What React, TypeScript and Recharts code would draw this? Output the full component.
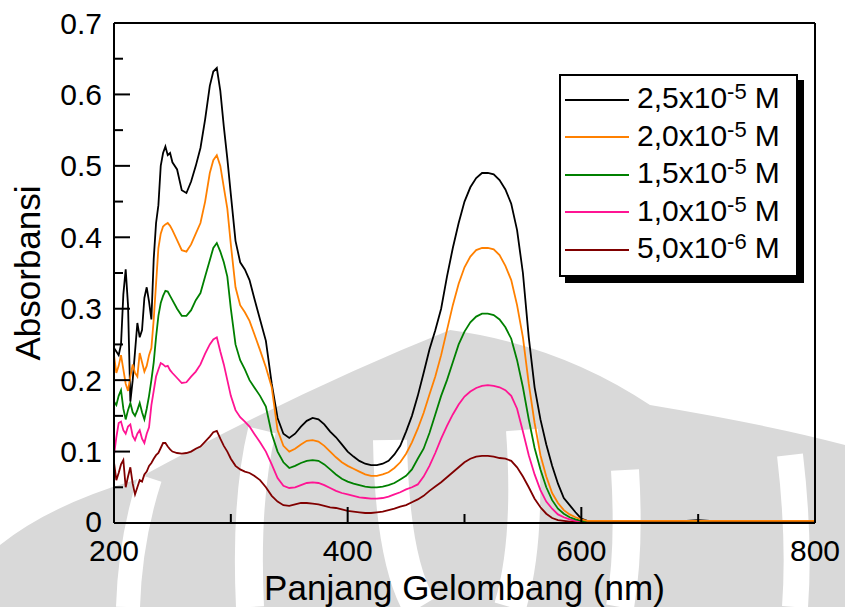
import React from "react";
import { Legend, Line, LineChart, XAxis, YAxis } from "recharts";

// wavelength grid (nm)
const WL = [
  200, 202, 204, 206, 208, 210, 212, 214, 216, 218,
  220, 222, 224, 226, 228, 230, 232, 234, 236, 238,
  240, 242, 244, 246, 248, 250, 254, 258, 262, 266,
  270, 274, 278, 282, 285, 288, 291, 294, 297, 300,
  304, 308, 312, 316, 320, 325, 330, 335, 340, 345,
  350, 355, 360, 365, 370, 375, 380, 385, 390, 395,
  400, 405, 410, 415, 420, 425, 430, 435, 440, 445,
  450, 455, 460, 465, 470, 475, 480, 485, 490, 495,
  500, 505, 510, 515, 520, 525, 530, 535, 540, 545,
  550, 555, 560, 565, 570, 575, 580, 585, 590, 595,
  600, 605, 610, 620, 640, 660, 680, 700, 720, 740,
  760, 780, 800,
];

// 2,5x10^-5 M
const A25 = [
  0.245, 0.24, 0.235, 0.25, 0.32, 0.355, 0.305, 0.17, 0.2, 0.24,
  0.28, 0.26, 0.27, 0.315, 0.33, 0.31, 0.285, 0.37, 0.42, 0.445,
  0.5, 0.518, 0.527, 0.515, 0.518, 0.505, 0.495, 0.466, 0.462, 0.478,
  0.5, 0.525, 0.565, 0.612, 0.632, 0.637, 0.605, 0.555, 0.51, 0.46,
  0.395, 0.365, 0.355, 0.34, 0.315, 0.285, 0.255, 0.195, 0.147, 0.125,
  0.119, 0.125, 0.135, 0.143, 0.147, 0.145, 0.138, 0.128, 0.12, 0.11,
  0.1, 0.093, 0.087, 0.083, 0.081, 0.081, 0.083, 0.087, 0.096, 0.108,
  0.128, 0.15, 0.178, 0.21, 0.243, 0.27, 0.3, 0.345, 0.385, 0.42,
  0.45, 0.47, 0.483, 0.49, 0.49, 0.488, 0.48, 0.467, 0.447, 0.41,
  0.35, 0.26, 0.19, 0.145, 0.11, 0.08, 0.055, 0.035, 0.025, 0.015,
  0.006, 0.003, 0.002, 0.002, 0.002, 0.002, 0.002, 0.004, 0.002, 0.003,
  0.002, 0.002, 0.002,
];

// 2,0x10^-5 M
const A20 = [
  0.235, 0.21, 0.22, 0.235, 0.215, 0.195, 0.185, 0.205, 0.222, 0.21,
  0.205, 0.238, 0.225, 0.212, 0.22, 0.235, 0.245, 0.285, 0.335, 0.385,
  0.405, 0.415, 0.418, 0.42, 0.416, 0.41, 0.396, 0.382, 0.38, 0.39,
  0.405, 0.42, 0.45, 0.49, 0.508, 0.515, 0.5, 0.47, 0.44, 0.39,
  0.33, 0.305, 0.295, 0.283, 0.265, 0.242, 0.218, 0.19, 0.13, 0.108,
  0.1, 0.104, 0.11, 0.115, 0.116, 0.114, 0.108, 0.1, 0.092, 0.085,
  0.08, 0.076, 0.072, 0.068, 0.066, 0.066, 0.068, 0.071, 0.077, 0.085,
  0.097, 0.113, 0.132, 0.154, 0.18, 0.205, 0.235, 0.27, 0.305, 0.335,
  0.358, 0.373, 0.382, 0.385, 0.385, 0.383, 0.375, 0.36, 0.34, 0.305,
  0.26, 0.195, 0.14, 0.095, 0.065, 0.042, 0.028, 0.018, 0.012, 0.008,
  0.005, 0.003, 0.003, 0.003, 0.003, 0.003, 0.003, 0.003, 0.003, 0.003,
  0.003, 0.003, 0.003,
];

// 1,5x10^-5 M
const A15 = [
  0.17, 0.165, 0.178, 0.186, 0.16, 0.145, 0.158, 0.168, 0.155, 0.15,
  0.158, 0.168, 0.155, 0.145, 0.16, 0.178, 0.2, 0.225, 0.26, 0.29,
  0.308, 0.318, 0.325, 0.324, 0.318, 0.312, 0.3, 0.29, 0.29, 0.298,
  0.312, 0.322, 0.345, 0.368, 0.385, 0.392, 0.38, 0.365, 0.345, 0.3,
  0.25, 0.228, 0.215, 0.2, 0.19, 0.178, 0.163, 0.125, 0.1, 0.085,
  0.077, 0.08, 0.084, 0.087, 0.088, 0.087, 0.082, 0.075, 0.068, 0.062,
  0.058, 0.055, 0.053, 0.051, 0.05, 0.05, 0.051, 0.053, 0.056, 0.061,
  0.066, 0.075, 0.09, 0.104, 0.126, 0.152, 0.178, 0.2, 0.225, 0.25,
  0.268, 0.281, 0.289, 0.293, 0.293, 0.291, 0.285, 0.274, 0.258, 0.228,
  0.19, 0.145, 0.105, 0.075, 0.05, 0.032, 0.02, 0.013, 0.008, 0.005,
  0.003, 0.002, 0.002, 0.002, 0.002, 0.002, 0.002, 0.002, 0.002, 0.002,
  0.002, 0.002, 0.002,
];

// 1,0x10^-5 M
const A10 = [
  0.095, 0.12, 0.14, 0.142, 0.13, 0.125, 0.135, 0.138, 0.122, 0.116,
  0.125, 0.13, 0.118, 0.112, 0.125, 0.134, 0.165, 0.185, 0.205, 0.215,
  0.224, 0.222, 0.219, 0.22, 0.214, 0.21, 0.203, 0.196, 0.197, 0.205,
  0.212, 0.222, 0.237, 0.25, 0.257, 0.26, 0.24, 0.222, 0.2, 0.178,
  0.158, 0.148, 0.142, 0.135, 0.125, 0.113, 0.1, 0.082, 0.063, 0.052,
  0.049, 0.05, 0.053, 0.056, 0.057, 0.056, 0.053, 0.049, 0.045, 0.042,
  0.04, 0.038, 0.036, 0.035, 0.034, 0.034, 0.035, 0.037, 0.04, 0.043,
  0.047, 0.05, 0.054, 0.065, 0.08, 0.098, 0.118, 0.136, 0.152, 0.166,
  0.177, 0.184, 0.189, 0.192, 0.193, 0.192, 0.19, 0.186, 0.178, 0.16,
  0.128, 0.095, 0.068, 0.046, 0.03, 0.02, 0.012, 0.008, 0.005, 0.003,
  0.002, 0.002, 0.002, 0.002, 0.002, 0.002, 0.002, 0.002, 0.002, 0.002,
  0.002, 0.002, 0.002,
];

// 5,0x10^-6 M
const A05 = [
  0.085, 0.06, 0.07, 0.082, 0.088, 0.05, 0.065, 0.078, 0.055, 0.04,
  0.05, 0.06, 0.058, 0.068, 0.072, 0.08, 0.084, 0.09, 0.095, 0.098,
  0.105, 0.112, 0.112, 0.107, 0.103, 0.1, 0.098, 0.097, 0.098, 0.1,
  0.104, 0.107, 0.114, 0.121, 0.127, 0.129, 0.118, 0.108, 0.1, 0.09,
  0.08, 0.075, 0.072, 0.07, 0.066, 0.06, 0.05, 0.038, 0.03, 0.025,
  0.024, 0.026, 0.028, 0.028, 0.027, 0.026, 0.024, 0.022, 0.021, 0.019,
  0.017, 0.016, 0.015, 0.014, 0.014, 0.015, 0.016, 0.018, 0.02, 0.023,
  0.025, 0.029, 0.033, 0.038, 0.045, 0.051, 0.057, 0.064, 0.071, 0.078,
  0.085, 0.09, 0.093, 0.094, 0.094, 0.093, 0.091, 0.09, 0.087, 0.078,
  0.065, 0.05, 0.034, 0.022, 0.013, 0.007, 0.004, 0.003, 0.002, 0.002,
  0.002, 0.002, 0.002, 0.002, 0.002, 0.002, 0.002, 0.002, 0.002, 0.002,
  0.002, 0.002, 0.002,
];

const X_TICKS = [200, 300, 400, 500, 600, 700, 800];
const Y_TICKS = [0, 0.05, 0.1, 0.15, 0.2, 0.25, 0.3, 0.35, 0.4, 0.45, 0.5, 0.55, 0.6, 0.65, 0.7];

const SERIES = [
  { key: "a25", label: "2,5", exp: "-5", color: "#000000", values: A25 },
  { key: "a20", label: "2,0", exp: "-5", color: "#FF8000", values: A20 },
  { key: "a15", label: "1,5", exp: "-5", color: "#008000", values: A15 },
  { key: "a10", label: "1,0", exp: "-5", color: "#FF1493", values: A10 },
  { key: "a05", label: "5,0", exp: "-6", color: "#800000", values: A05 },
];

// draw order: orange ends up on top like the original
const DRAW_ORDER = ["a05", "a10", "a15", "a25", "a20"];

const data = WL.map((wl, i) => {
  const row: Record<string, number> = { wl };
  SERIES.forEach((s) => (row[s.key] = s.values[i]));
  return row;
});

const FONT = "'Liberation Sans', Arial, sans-serif";
const MAJOR = 16;
const MINOR = 9;

const isMajorY = (v: number) => Math.round(v * 100) % 10 === 0;
const isMajorX = (v: number) => v % 200 === 0;
const fmtY = (v: number) => (v === 0 ? "0" : v.toFixed(1));

const LeftTick = ({ x, y, payload }: any) => {
  const major = isMajorY(payload.value);
  return (
    <g>
      <line x1={x} x2={x + (major ? MAJOR : MINOR)} y1={y} y2={y} stroke="#000" strokeWidth={2} />
      {major && (
        <text
          x={x - 12}
          y={y}
          dy={payload.value === 0 ? 9 : 10.5}
          textAnchor="end"
          fontSize={30}
          fontFamily={FONT}
          fill="#000"
        >
          {fmtY(payload.value)}
        </text>
      )}
    </g>
  );
};

const RightTick = ({ x, y, payload }: any) => {
  const major = isMajorY(payload.value);
  return <line x1={x} x2={x - (major ? MAJOR : MINOR)} y1={y} y2={y} stroke="#000" strokeWidth={2} />;
};

const BottomTick = ({ x, y, payload }: any) => {
  const major = isMajorX(payload.value);
  return (
    <g>
      <line x1={x} x2={x} y1={y} y2={y - (major ? MAJOR : MINOR)} stroke="#000" strokeWidth={2} />
      {major && (
        <text x={x} y={y + 38} textAnchor="middle" fontSize={30} fontFamily={FONT} fill="#000">
          {payload.value}
        </text>
      )}
    </g>
  );
};

const TopTick = ({ x, y, payload }: any) => {
  const major = isMajorX(payload.value);
  return <line x1={x} x2={x} y1={y} y2={y + (major ? MAJOR : MINOR)} stroke="#000" strokeWidth={2} />;
};

const XTitle = ({ viewBox }: any) => (
  <text x={viewBox.x + viewBox.width / 2} y={600} textAnchor="middle" fontSize={35} fontFamily={FONT} fill="#000">
    Panjang Gelombang (nm)
  </text>
);

const YTitle = ({ viewBox }: any) => {
  const cx = 28;
  const cy = viewBox.y + viewBox.height / 2;
  return (
    <text
      x={cx}
      y={cy}
      dy={12}
      textAnchor="middle"
      fontSize={35}
      fontFamily={FONT}
      fill="#000"
      transform={`rotate(-90 ${cx} ${cy})`}
    >
      Absorbansi
    </text>
  );
};

const LegendBox = () => (
  <div
    style={{
      width: 231,
      padding: "5px 0 6px 4px",
      boxSizing: "content-box",
      border: "2px solid #000",
      background: "#fff",
      boxShadow: "6px 6px 0 #000",
      fontFamily: FONT,
      color: "#000",
    }}
  >
    {SERIES.map((s) => (
      <div key={s.key} style={{ display: "flex", alignItems: "center", height: 37.5 }}>
        <span style={{ display: "inline-block", width: 64, borderTop: `2px solid ${s.color}` }} />
        <span style={{ marginLeft: 8, fontSize: 30, lineHeight: "30px", whiteSpace: "nowrap" }}>
          {s.label}x10
          <span style={{ fontSize: 22, position: "relative", top: -9 }}>{s.exp}</span>
          <span style={{ marginLeft: 8 }}>M</span>
        </span>
      </div>
    ))}
  </div>
);

// faint grey logo watermark that sits behind the figure in the source scan
const Watermark = () => (
  <svg width={845} height={607} style={{ position: "absolute", left: 0, top: 0 }}>
    <path
      d="M 0 545 Q 50 505 135 480 Q 300 390 450 330 Q 560 345 650 405 Q 770 425 845 445 L 845 607 L 0 607 Z"
      fill="#d9d9d9"
    />
    <g fill="none" stroke="#fff" strokeLinecap="butt">
      <path d="M 128 607 Q 130 540 150 478" strokeWidth={24} />
      <path d="M 250 607 Q 245 500 262 430" strokeWidth={28} />
      <path d="M 390 440 Q 392 560 420 607" strokeWidth={34} />
      <path d="M 522 430 Q 530 540 510 607" strokeWidth={32} />
      <path d="M 625 470 Q 630 550 620 607" strokeWidth={28} />
      <path d="M 790 455 Q 800 540 795 607" strokeWidth={26} />
    </g>
  </svg>
);

export default function App() {
  return (
    <div style={{ position: "absolute", left: 0, top: 0, width: 845, height: 607, background: "#fff" }}>
      <Watermark />
      <div style={{ position: "absolute", left: 0, top: 0 }}>
        <LineChart width={845} height={607} data={data} margin={{ top: 0, right: 0, bottom: 0, left: 0 }}>
          <XAxis
            dataKey="wl"
            type="number"
            domain={[200, 800]}
            ticks={X_TICKS}
            interval={0}
            height={84}
            tickSize={0}
            tickMargin={0}
            tickLine={false}
            axisLine={{ stroke: "#000", strokeWidth: 2 }}
            tick={<BottomTick />}
            label={<XTitle />}
          />
          <XAxis
            xAxisId="top"
            orientation="top"
            type="number"
            domain={[200, 800]}
            ticks={X_TICKS}
            interval={0}
            height={23}
            tickSize={0}
            tickMargin={0}
            tickLine={false}
            axisLine={{ stroke: "#000", strokeWidth: 2 }}
            tick={<TopTick />}
          />
          <YAxis
            type="number"
            domain={[0, 0.7]}
            ticks={Y_TICKS}
            interval={0}
            width={114}
            tickSize={0}
            tickMargin={0}
            tickLine={false}
            axisLine={{ stroke: "#000", strokeWidth: 2 }}
            tick={<LeftTick />}
            label={<YTitle />}
          />
          <YAxis
            yAxisId="right"
            orientation="right"
            type="number"
            domain={[0, 0.7]}
            ticks={Y_TICKS}
            interval={0}
            width={30}
            tickSize={0}
            tickMargin={0}
            tickLine={false}
            axisLine={{ stroke: "#000", strokeWidth: 2 }}
            tick={<RightTick />}
          />
          {DRAW_ORDER.map((k) => {
            const s = SERIES.find((x) => x.key === k)!;
            return (
              <Line
                key={k}
                type="linear"
                dataKey={k}
                stroke={s.color}
                strokeWidth={1.8}
                dot={false}
                activeDot={false}
                isAnimationActive={false}
              />
            );
          })}
          <Legend
            layout="horizontal"
            verticalAlign="middle"
            align="center"
            content={<LegendBox />}
            wrapperStyle={{ left: 559, top: 74, width: 237, height: 200 }}
          />
        </LineChart>
      </div>
    </div>
  );
}
